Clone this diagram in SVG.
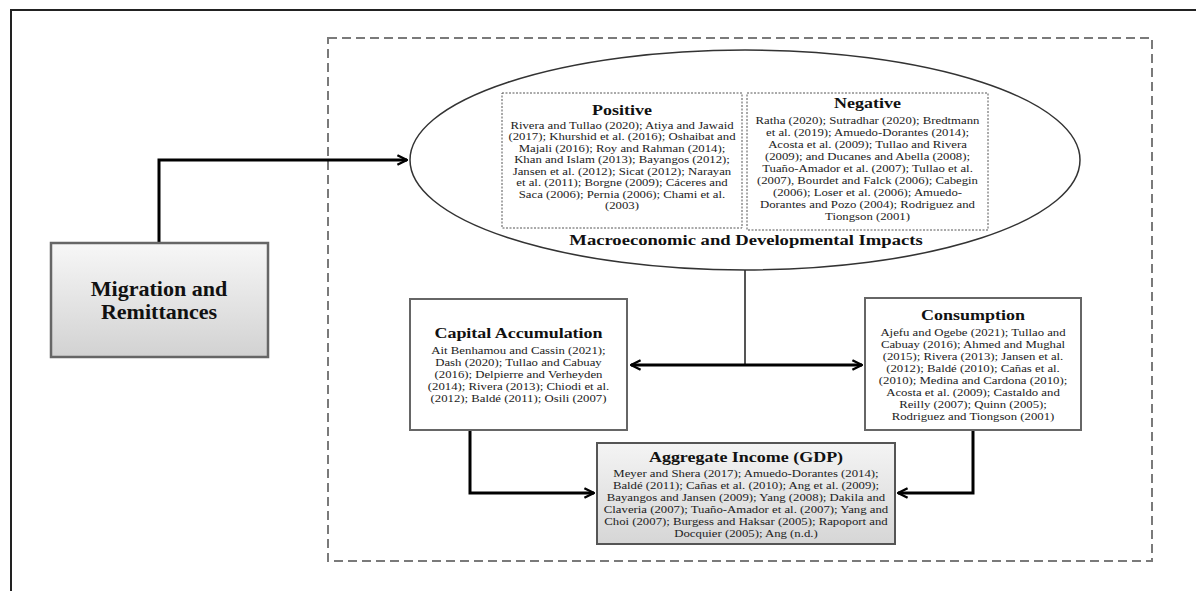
<svg xmlns="http://www.w3.org/2000/svg" width="1196" height="591" viewBox="0 0 1196 591">
<defs>
<linearGradient id="gMig" x1="0" y1="0" x2="0" y2="1">
<stop offset="0" stop-color="#f7f7f7"/>
<stop offset="1" stop-color="#d2d2d2"/>
</linearGradient>
<linearGradient id="gAgg" x1="0" y1="0" x2="0" y2="1">
<stop offset="0" stop-color="#f4f4f4"/>
<stop offset="1" stop-color="#d6d6d6"/>
</linearGradient>
<marker id="ah" viewBox="0 0 10 10" refX="9" refY="5" markerWidth="4" markerHeight="4" orient="auto-start-reverse" markerUnits="strokeWidth">
<path d="M1,1 L9,5 L1,9" fill="none" stroke="#000" stroke-width="2"/>
</marker>
</defs>
<style>
.t{font-family:"Liberation Serif","Times New Roman",serif;font-weight:bold;font-size:15.5px;fill:#111;text-anchor:middle}
.b{font-family:"Liberation Serif","Times New Roman",serif;font-size:11px;fill:#222;text-anchor:middle}
.box{fill:#fff;stroke:#666;stroke-width:2}
.dot{fill:none;stroke:#555;stroke-width:1;stroke-dasharray:2 1.5}
.conn{fill:none;stroke:#000;stroke-width:3}
</style>
<rect width="1196" height="591" fill="#fff"/>
<path d="M11,591 V10 H1196" fill="none" stroke="#222" stroke-width="2"/>
<rect id="frame" x="328" y="38" width="824" height="523" fill="none" stroke="#7a7a7a" stroke-width="2" stroke-dasharray="9 5"/>

<g id="connectors">
<path class="conn" d="M159,243 V160 H407" marker-end="url(#ah)"/>
<path d="M745,270 V365" fill="none" stroke="#555" stroke-width="2"/>
<path class="conn" d="M631,365 H862" marker-start="url(#ah)" marker-end="url(#ah)"/>
<path class="conn" d="M470,430 V493 H594" marker-end="url(#ah)"/>
<path class="conn" d="M973,430 V493 H898" marker-end="url(#ah)"/>
</g>

<g id="migration">
<rect x="51" y="243" width="217" height="114" fill="url(#gMig)" stroke="#666" stroke-width="2.5"/>
<g transform="translate(159 0) scale(1.05 1)">
<text class="t" x="0" y="296" style="font-size:21px">Migration and</text>
<text class="t" x="0" y="319" style="font-size:21px">Remittances</text>
</g>
</g>

<g id="impacts">
<ellipse cx="745" cy="160" rx="335" ry="110" fill="#fff" stroke="#333" stroke-width="1.5"/>
<g transform="translate(746 0) scale(1.2 1)">
<text class="t" x="0" y="245">Macroeconomic and Developmental Impacts</text>
</g>
</g>

<g id="positive">
<rect class="dot" x="502" y="93" width="240" height="135"/>
<g transform="translate(622 0) scale(1.16 1)">
<text class="t" x="0" y="115">Positive</text>
<text class="b" x="0" y="129">Rivera and Tullao (2020); Atiya and Jawaid</text>
<text class="b" x="0" y="140.5">(2017); Khurshid et al. (2016); Oshaibat and</text>
<text class="b" x="0" y="152">Majali (2016); Roy and Rahman (2014);</text>
<text class="b" x="0" y="163.5">Khan and Islam (2013); Bayangos (2012);</text>
<text class="b" x="0" y="175">Jansen et al. (2012); Sicat (2012); Narayan</text>
<text class="b" x="0" y="186.5">et al. (2011); Borgne (2009); Cáceres and</text>
<text class="b" x="0" y="198">Saca (2006); Pernia (2006); Chami et al.</text>
<text class="b" x="0" y="209.5">(2003)</text>
</g>
</g>

<g id="negative">
<rect class="dot" x="747" y="93" width="241" height="137"/>
<g transform="translate(867.5 0) scale(1.16 1)">
<text class="t" x="0" y="108">Negative</text>
<text class="b" x="0" y="124">Ratha (2020); Sutradhar (2020); Bredtmann</text>
<text class="b" x="0" y="136">et al. (2019); Amuedo-Dorantes (2014);</text>
<text class="b" x="0" y="148">Acosta et al. (2009); Tullao and Rivera</text>
<text class="b" x="0" y="160">(2009); and Ducanes and Abella (2008);</text>
<text class="b" x="0" y="172">Tuaño-Amador et al. (2007); Tullao et al.</text>
<text class="b" x="0" y="184">(2007), Bourdet and Falck (2006); Cabegin</text>
<text class="b" x="0" y="196">(2006); Loser et al. (2006); Amuedo-</text>
<text class="b" x="0" y="208">Dorantes and Pozo (2004); Rodriguez and</text>
<text class="b" x="0" y="220">Tiongson (2001)</text>
</g>
</g>

<g id="capital">
<rect class="box" x="410" y="299" width="217" height="131"/>
<g transform="translate(518.5 0) scale(1.16 1)">
<text class="t" x="0" y="338">Capital Accumulation</text>
<text class="b" x="0" y="354">Ait Benhamou and Cassin (2021);</text>
<text class="b" x="0" y="366">Dash (2020); Tullao and Cabuay</text>
<text class="b" x="0" y="378">(2016); Delpierre and Verheyden</text>
<text class="b" x="0" y="390">(2014); Rivera (2013); Chiodi et al.</text>
<text class="b" x="0" y="402">(2012); Baldé (2011); Osili (2007)</text>
</g>
</g>

<g id="consumption">
<rect class="box" x="865" y="298" width="216" height="132"/>
<g transform="translate(973 0) scale(1.16 1)">
<text class="t" x="0" y="320">Consumption</text>
<text class="b" x="0" y="336">Ajefu and Ogebe (2021); Tullao and</text>
<text class="b" x="0" y="348">Cabuay (2016); Ahmed and Mughal</text>
<text class="b" x="0" y="360">(2015); Rivera (2013); Jansen et al.</text>
<text class="b" x="0" y="372">(2012); Baldé (2010); Cañas et al.</text>
<text class="b" x="0" y="384">(2010); Medina and Cardona (2010);</text>
<text class="b" x="0" y="396">Acosta et al. (2009); Castaldo and</text>
<text class="b" x="0" y="408">Reilly (2007); Quinn (2005);</text>
<text class="b" x="0" y="420">Rodriguez and Tiongson (2001)</text>
</g>
</g>

<g id="aggregate">
<rect x="597" y="443" width="298" height="101" fill="url(#gAgg)" stroke="#555" stroke-width="2"/>
<g transform="translate(746 0) scale(1.16 1)">
<text class="t" x="0" y="462">Aggregate Income (GDP)</text>
<text class="b" x="0" y="477">Meyer and Shera (2017); Amuedo-Dorantes (2014);</text>
<text class="b" x="0" y="489">Baldé (2011); Cañas et al. (2010); Ang et al. (2009);</text>
<text class="b" x="0" y="501">Bayangos and Jansen (2009); Yang (2008); Dakila and</text>
<text class="b" x="0" y="513">Claveria (2007); Tuaño-Amador et al. (2007); Yang and</text>
<text class="b" x="0" y="525">Choi (2007); Burgess and Haksar (2005); Rapoport and</text>
<text class="b" x="0" y="537">Docquier (2005); Ang (n.d.)</text>
</g>
</g>
</svg>
